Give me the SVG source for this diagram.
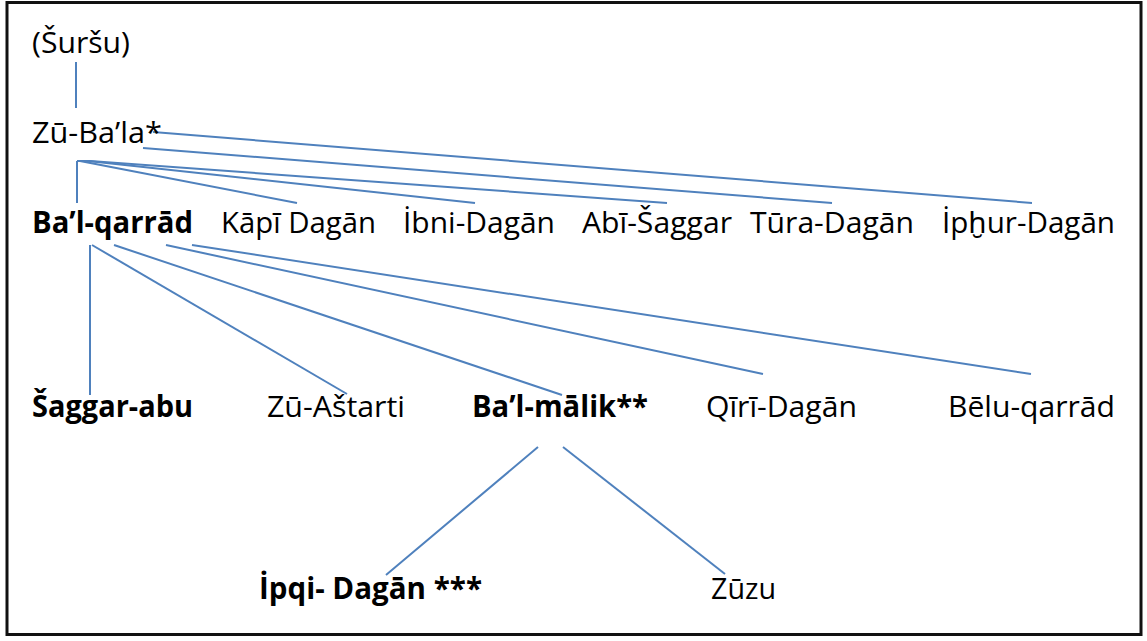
<svg xmlns="http://www.w3.org/2000/svg" width="1147" height="641" viewBox="0 0 1147 641">
<style>
.t{font-family:"Open Sans","Noto Sans","Liberation Sans",sans-serif;font-size:29.5px;fill:#000}
.b{font-weight:bold}
.c line{stroke:#4f81bd;stroke-width:2;fill:none}
</style>
<rect x="0" y="0" width="1147" height="641" fill="#fff"/>
<rect id="frame" x="7" y="2.5" width="1134" height="632" fill="#fff" stroke="#111" stroke-width="3"/>
<g id="connectors" class="c">
<line x1="76" y1="62" x2="76" y2="108"/>
<line x1="153" y1="132" x2="1032" y2="203"/>
<line x1="143" y1="148" x2="832" y2="203"/>
<line x1="77" y1="161" x2="77" y2="203"/>
<line x1="77" y1="161" x2="90" y2="161"/>
<line x1="80" y1="161" x2="297" y2="203"/>
<line x1="88" y1="161" x2="475" y2="203"/>
<line x1="90" y1="161" x2="667" y2="203"/>
<line x1="90" y1="245" x2="90" y2="395"/>
<line x1="92" y1="245" x2="347" y2="394"/>
<line x1="114" y1="245" x2="562" y2="395"/>
<line x1="166" y1="245" x2="763" y2="374"/>
<line x1="192" y1="245" x2="1031" y2="374"/>
<line x1="538" y1="447" x2="386" y2="575"/>
<line x1="563" y1="447" x2="725" y2="574"/>
</g>
<g id="n-sursu"><text class="t" x="32" y="53" textLength="98" lengthAdjust="spacingAndGlyphs">(Šuršu)</text></g>
<g id="n-zubala"><text class="t" x="32" y="143" textLength="130" lengthAdjust="spacingAndGlyphs">Zū-Ba’la*</text></g>
<g id="n-balqarrad"><text class="t b" x="32" y="233" textLength="161" lengthAdjust="spacingAndGlyphs">Ba’l-qarrād</text></g>
<g id="n-kapi"><text class="t" x="221" y="233" textLength="155" lengthAdjust="spacingAndGlyphs">Kāpī Dagān</text></g>
<g id="n-ibni"><text class="t" x="403" y="233" textLength="152" lengthAdjust="spacingAndGlyphs">İbni-Dagān</text></g>
<g id="n-abi"><text class="t" x="582" y="233" textLength="150" lengthAdjust="spacingAndGlyphs">Abī-Šaggar</text></g>
<g id="n-tura"><text class="t" x="750" y="233" textLength="164" lengthAdjust="spacingAndGlyphs">Tūra-Dagān</text></g>
<g id="n-iphur"><text class="t" x="942" y="233" textLength="173" lengthAdjust="spacingAndGlyphs">İpḫur-Dagān</text></g>
<g id="n-saggar"><text class="t b" x="32" y="417" textLength="161" lengthAdjust="spacingAndGlyphs">Šaggar-abu</text></g>
<g id="n-zuastarti"><text class="t" x="267" y="417" textLength="138" lengthAdjust="spacingAndGlyphs">Zū-Aštarti</text></g>
<g id="n-balmalik"><text class="t b" x="472" y="417" textLength="176" lengthAdjust="spacingAndGlyphs">Ba’l-mālik**</text></g>
<g id="n-qiri"><text class="t" x="706" y="417" textLength="151" lengthAdjust="spacingAndGlyphs">Qīrī-Dagān</text></g>
<g id="n-belu"><text class="t" x="948" y="417" textLength="167" lengthAdjust="spacingAndGlyphs">Bēlu-qarrād</text></g>
<g id="n-ipqi"><text class="t b" x="259" y="599" textLength="223" lengthAdjust="spacingAndGlyphs">İpqi- Dagān ***</text></g>
<g id="n-zuzu"><text class="t" x="711" y="599" textLength="65" lengthAdjust="spacingAndGlyphs">Zūzu</text></g>
</svg>
